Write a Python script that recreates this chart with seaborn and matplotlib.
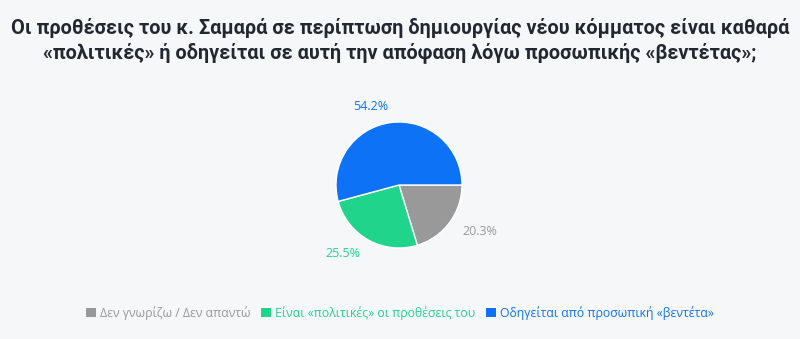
import matplotlib
matplotlib.use("Agg")
import matplotlib.pyplot as plt
import seaborn as sns
from matplotlib.patches import Patch

categories = ["Δεν γνωρίζω / Δεν απαντώ",
              "Είναι «πολιτικές» οι προθέσεις του",
              "Οδηγείται από προσωπική «βεντέτα»"]
values = [20.3, 25.5, 54.2]
colors = ["#999999", "#20d48c", "#0d72f5"]
title_lines = ["Οι προθέσεις του κ. Σαμαρά σε περίπτωση δημιουργίας νέου κόμματος είναι καθαρά",
               "«πολιτικές» ή οδηγείται σε αυτή την απόφαση λόγω προσωπικής «βεντέτας»;"]

sns.set_theme(style="white")
plt.rcParams["font.family"] = ["Open Sans", "DejaVu Sans"]

bg = "#f6f7f9"
fig = plt.figure(figsize=(8.0, 3.39), dpi=100, facecolor=bg)

# pie centred near (399, 185) px with radius ~63 px
ax = fig.add_axes([(399 - 63) / 800, 1 - (185 + 63) / 339, 126 / 800, 126 / 339])
ax.set_facecolor(bg)

labels = [f"{v:.1f}%" for v in values]
wedges, texts = ax.pie(values, colors=colors, startangle=0, counterclock=False,
                       labels=labels, labeldistance=1.25,
                       wedgeprops=dict(edgecolor="white", linewidth=1.0),
                       textprops=dict(fontsize=9))
for t, c in zip(texts, colors):
    t.set_color(c)
ax.set_xlim(-1, 1)
ax.set_ylim(-1, 1)
ax.set_aspect("equal")
ax.axis("off")

for line, ypx in zip(title_lines, (28, 53)):
    fig.text(0.5, 1 - ypx / 339, line, ha="center", va="center",
             fontsize=14.3, fontweight="bold", color="#222831",
             family=["Roboto", "DejaVu Sans"])

handles = [Patch(facecolor=c, edgecolor="none") for c in colors]
leg = fig.legend(handles, categories, loc="center", bbox_to_anchor=(0.5, 1 - 313 / 339),
                 ncol=3, frameon=False, fontsize=8.8, handlelength=0.8,
                 handleheight=0.8, handletextpad=0.3, columnspacing=0.9)
for t, c in zip(leg.get_texts(), colors):
    t.set_color(c)

fig.savefig("out.png", dpi=100, facecolor=bg)
